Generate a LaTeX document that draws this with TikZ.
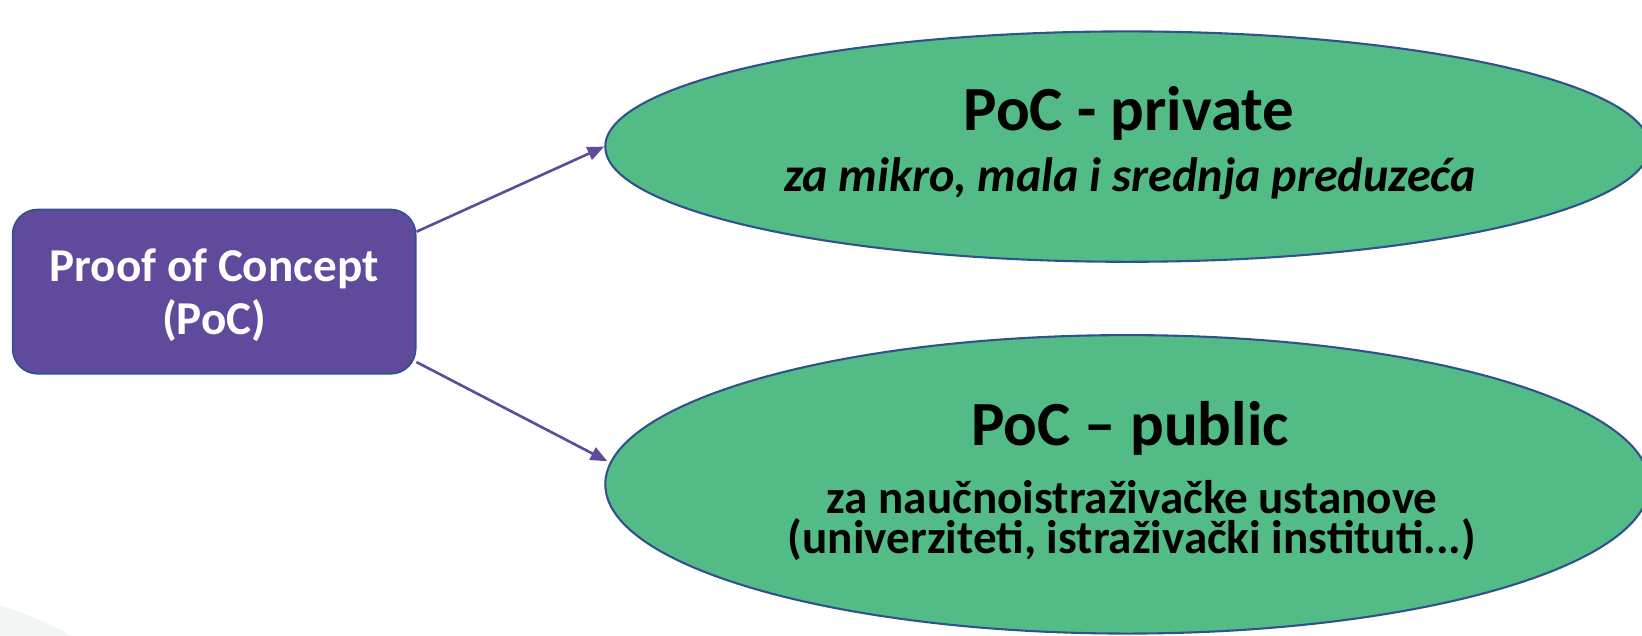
\documentclass[tikz,border=0pt]{standalone}
\usepackage{fontspec}
\setmainfont{Carlito}
\usetikzlibrary{shapes.geometric,calc,arrows.meta}
\definecolor{pocpurple}{RGB}{95,74,155}
\definecolor{pocgreen}{RGB}{83,187,133}
\definecolor{pocedge}{RGB}{47,82,143}
\definecolor{bgtint}{RGB}{241,245,243}
\begin{document}
\begin{tikzpicture}[x=1pt,y=-1pt,
  rootbox/.style={draw=pocedge, line width=1.5pt, fill=pocpurple, rounded corners=24pt,
    minimum width=385pt, minimum height=157pt, inner sep=0pt},
  roottext/.style={anchor=base, text=white, align=center,
    font=\bfseries\fontsize{45}{50}\selectfont},
  leaf/.style={ellipse, draw=pocedge, line width=2pt, fill=pocgreen, inner sep=0pt},
  titletext/.style={anchor=base, font=\bfseries\fontsize{60}{62}\selectfont},
  subtext/.style={anchor=base, font=\bfseries\itshape\fontsize{46}{48}\selectfont},
  pubtext/.style={anchor=base, align=center, font=\bfseries\fontsize{45}{39}\selectfont},
  conn/.style={draw=pocpurple, line width=2.5pt, -{Triangle[length=16pt,width=13pt]}}]
\path[use as bounding box] (0,0) rectangle (1568,607);
\clip (0,0) rectangle (1568,607);
\fill[bgtint] (0,578) .. controls (25,586) and (48,596) .. (68,607) -- (0,607) -- cycle;
\node[rootbox] (root) at (204.5,278.5) {};
\node[roottext] (roottxt) at (204.5,319) {Proof of Concept\\(PoC)};
\node[leaf, minimum width=997pt, minimum height=220pt] (top) at (1076.5,140) {};
\node[leaf, minimum width=997pt, minimum height=285pt] (bot) at (1076.5,462.5) {};
\node[titletext] (toptitle) at (1078,125) {PoC - private};
\node[subtext] (topsub) at (1079,183) {za mikro, mala i srednja preduzeća};
\node[titletext] (bottitle) at (1079,425) {PoC – public};
\node[pubtext] (botsub) at (1081,529) {za naučnoistraživačke ustanove\\(univerziteti, istraživački instituti...)};
\draw[conn] ($(root.north east)+(0,22)$) -- (top.west);
\draw[conn] ($(root.south east)+(0,-12)$) -- ($(bot.west)+(3,-22)$);
\end{tikzpicture}
\end{document}
